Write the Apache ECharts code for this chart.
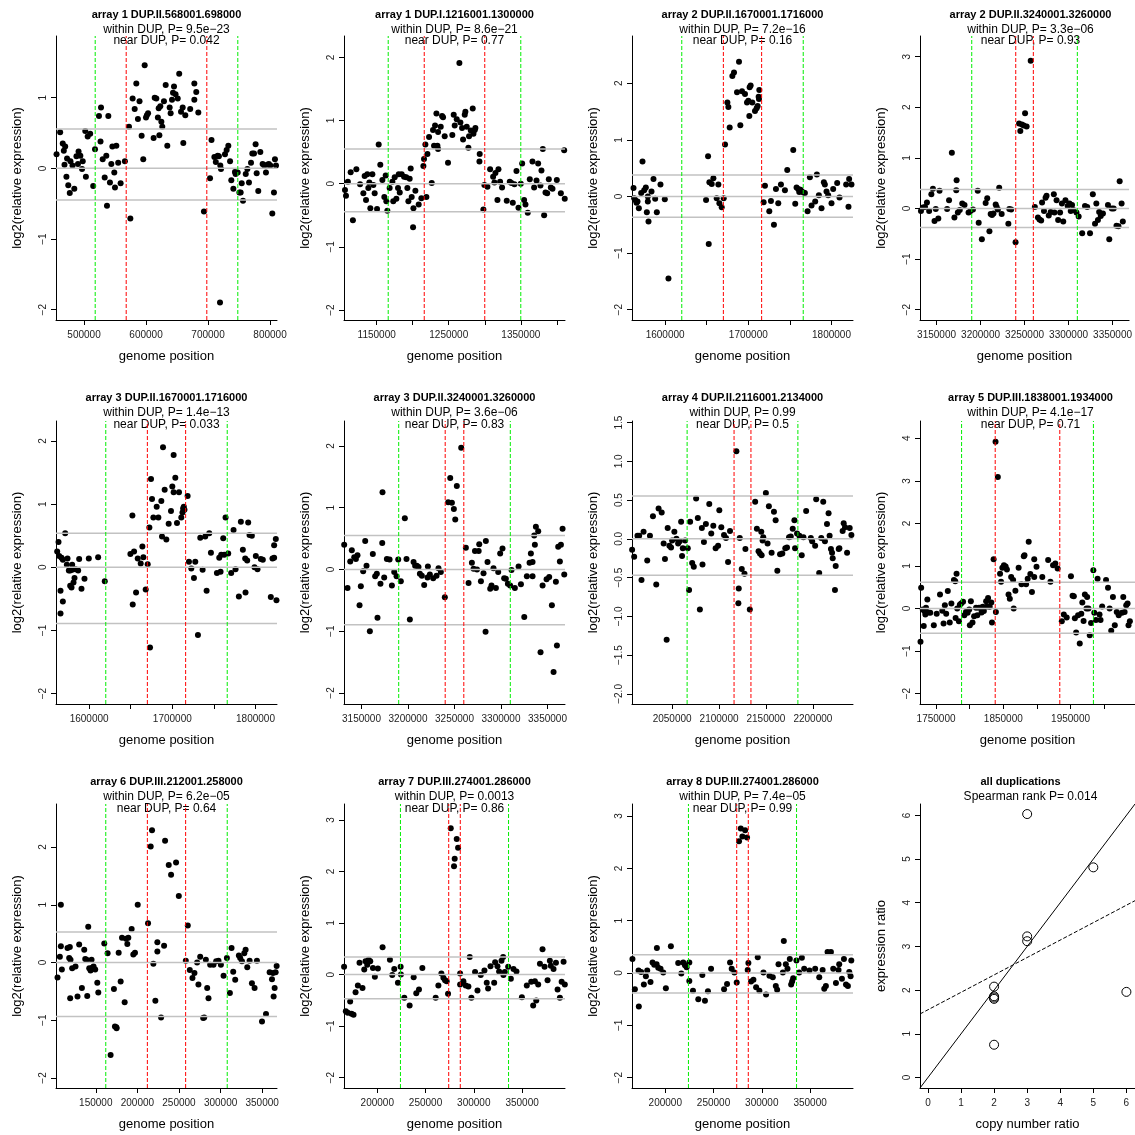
<!DOCTYPE html>
<html>
<head>
<meta charset="utf-8">
<script src="https://cdn.jsdelivr.net/npm/echarts@6/dist/echarts.min.js"></script>
<style>
  html, body { margin: 0; padding: 0; background: #fff; }
  #chart { width: 1135px; height: 1135px; }
</style>
</head>
<body>
<div id="chart"></div>
<script>
// ---- data (x in kb, y = log2 relative expression) ----
const titles = [
  'array 1 DUP.II.568001.698000', 'array 1 DUP.I.1216001.1300000',
  'array 2 DUP.II.1670001.1716000', 'array 2 DUP.II.3240001.3260000',
  'array 3 DUP.II.1670001.1716000', 'array 3 DUP.II.3240001.3260000',
  'array 4 DUP.II.2116001.2134000', 'array 5 DUP.III.1838001.1934000',
  'array 6 DUP.III.212001.258000', 'array 7 DUP.III.274001.286000',
  'array 8 DUP.III.274001.286000'
];
const withinP = ['9.5e\u221223', '8.6e\u221221', '7.2e\u221216', '3.3e\u221206', '1.4e\u221213', '3.6e\u221206',
  '0.99', '4.1e\u221217', '6.2e\u221205', '0.0013', '7.4e\u221205'];
const nearP = ['0.042', '0.77', '0.16', '0.93', '0.033', '0.83', '0.5', '0.71', '0.64', '0.86', '0.99'];
const dupStart = [568001, 1216001, 1670001, 3240001, 1670001, 3240001, 2116001, 1838001, 212001, 274001, 274001];
const dupEnd = [698000, 1300000, 1716000, 3260000, 1716000, 3260000, 2134000, 1934000, 258000, 286000, 286000];
const upperCut = [0.557, 0.549, 0.38, 0.375, 0.54, 0.549, 0.552, 0.62, 0.53, 0.34, 0.35];
const lowerCut = [-0.448, -0.443, -0.365, -0.375, -0.89, -0.894, -0.47, -0.58, -0.935, -0.466, -0.38];

const xTicks = [
  [500000, 600000, 700000, 800000],
  [1150000, 1200000, 1250000, 1300000, 1350000, 1400000],
  [1600000, 1650000, 1700000, 1750000, 1800000],
  [3150000, 3200000, 3250000, 3300000, 3350000],
  [1600000, 1650000, 1700000, 1750000, 1800000],
  [3150000, 3200000, 3250000, 3300000, 3350000],
  [2050000, 2100000, 2150000, 2200000],
  [1750000, 1800000, 1850000, 1900000, 1950000, 2000000],
  [150000, 200000, 250000, 300000, 350000],
  [200000, 250000, 300000, 350000],
  [200000, 250000, 300000, 350000]
];
const xLabels = [
  [500000, 600000, 700000, 800000],
  [1150000, 1250000, 1350000],
  [1600000, 1700000, 1800000],
  [3150000, 3200000, 3250000, 3300000, 3350000],
  [1600000, 1700000, 1800000],
  [3150000, 3200000, 3250000, 3300000, 3350000],
  [2050000, 2100000, 2150000, 2200000],
  [1750000, 1850000, 1950000],
  [150000, 200000, 250000, 300000, 350000],
  [200000, 250000, 300000, 350000],
  [200000, 250000, 300000, 350000]
];

const p1 = [[455.7,0.2],[461.5,0.51],[465.7,0.35],[467.4,0.25],[469.6,0.31],[468.5,0.05],[472.6,0.14],[471.6,-0.12],[474.6,-0.24],[477,-0.35],[478.1,0.1],[481.4,0.04],[484.3,-0.29],[487.8,0.17],[490.2,0.06],[491.2,0.24],[494.1,0.18],[496.8,-0.01],[497.9,0.1],[502,0.53],[503,-0.12],[505.9,0.45],[509.9,0.49],[514.8,-0.25],[517.7,0.27],[524.1,0.74],[527.4,0.86],[526.6,0.38],[530.1,0.13],[533.3,-0.13],[535.9,0.18],[537,-0.53],[539.2,0.74],[541.8,-0.2],[544,0.06],[545.7,0.31],[548.8,-0.06],[549.9,-0.27],[552.1,0.32],[555.1,0.08],[559,-0.21],[565.9,0.1],[572.5,0.59],[574.7,-0.71],[578.4,0.99],[581.7,0.84],[584.3,1.2],[586.9,0.7],[589.5,0.95],[592.9,0.46],[595.5,0.13],[597.8,1.46],[599.9,0.72],[601.4,0.75],[603.3,0.78],[612.2,0.43],[614,1.0],[616.6,0.99],[619.1,0.72],[620.4,0.85],[621.5,0.47],[623,0.88],[624.7,0.66],[626.2,0.59],[628.9,0.95],[631.7,1.18],[634.3,0.32],[638.1,0.86],[639.7,0.78],[641.9,0.97],[643.5,1.07],[645.1,1.16],[647.6,1.05],[651.1,0.99],[653.5,1.34],[656.4,0.8],[659.1,0.86],[660.1,0.36],[663.3,0.75],[671.2,0.84],[677.9,1.2],[677.9,0.97],[681,1.08],[684.3,0.79],[693.4,-0.61],[703.2,-0.14],[705.6,0.4],[710.2,0.16],[712.5,0.09],[715.5,0.18],[717.5,0.17],[719.3,-1.9],[719.8,0.04],[720.9,-0.01],[727.3,0.2],[730,0.26],[732.7,0.32],[735.5,0.1],[737.5,-0.17],[740.8,-0.29],[743.4,-0.05],[744.5,-0.08],[747.8,-0.06],[750.5,-0.34],[752.6,-0.34],[754.3,-0.21],[756.4,-0.46],[760.8,-0.08],[763.4,-0.01],[766,-0.2],[769.3,0.08],[771.4,0.21],[774.1,0.21],[776.7,0.34],[778.4,-0.07],[781,-0.32],[784.3,0.23],[788,0.06],[790.6,0.04],[793.4,-0.06],[795.5,0.05],[798,0.06],[800.4,0.04],[803.6,-0.64],[806.3,-0.34],[807.9,0.13],[809.6,0.04]];

const p2 = [[1106,-0.1],[1107.4,-0.19],[1110,0.03],[1113.9,0.18],[1117,-0.58],[1121.8,0.23],[1126.9,-0.01],[1131.5,-0.15],[1133.3,0.12],[1135.2,-0.26],[1137,0.15],[1138.4,-0.07],[1139.8,0.02],[1141.2,-0.39],[1144,0.15],[1145.4,-0.02],[1147.2,-0.15],[1150.5,-0.4],[1152.8,0.62],[1155,0.3],[1157.9,0.06],[1160.6,-0.21],[1162.5,0.13],[1163.4,-0.28],[1164.8,-0.43],[1168,-0.07],[1171.8,0.03],[1173,-0.28],[1175,0.1],[1177.3,-0.24],[1179.6,-0.07],[1180.6,0.15],[1182,-0.14],[1184.7,0.15],[1188,0.11],[1191,0.1],[1192.6,-0.07],[1194,-0.28],[1195.8,0.08],[1197.2,0.24],[1198.6,-0.21],[1200.5,-0.69],[1201,-0.39],[1203.7,-0.11],[1208.3,-0.33],[1212,-0.23],[1214.8,0.28],[1215.7,0.39],[1217.6,0.62],[1219,-0.21],[1220.4,0.47],[1222.7,0.74],[1226.4,0.01],[1228.2,0.85],[1229.6,0.6],[1231,0.92],[1232.9,1.11],[1234.3,0.6],[1235.2,0.55],[1235.2,0.82],[1238.9,0.9],[1240.7,1.07],[1242.1,1.05],[1244.4,0.75],[1249,0.33],[1255,0.77],[1256.9,1.09],[1258.3,0.92],[1261.1,1.02],[1264.8,1.91],[1266.2,0.97],[1268.5,0.88],[1269.9,0.7],[1272.2,1.09],[1273.1,1.14],[1275,0.9],[1277.3,0.57],[1278.2,0.75],[1280.6,0.84],[1283.3,1.19],[1284.3,0.79],[1286.1,0.85],[1287,0.88],[1293,0.47],[1292.6,0.35],[1298.1,-0.41],[1299.5,-0.02],[1303.7,-0.05],[1307.4,0.23],[1311.6,0.11],[1313.4,0.02],[1314.8,0.17],[1317.6,-0.26],[1319,0.23],[1321.3,0.03],[1324,-0.06],[1330.5,-0.27],[1334.7,0.03],[1337,0.01],[1338.9,-0.3],[1341.2,-0.01],[1344,0.2],[1346.8,-0.38],[1350,0],[1351.9,0.32],[1354.6,-0.26],[1356.5,-0.33],[1359.7,-0.46],[1362.5,0.07],[1366.2,0.35],[1368.5,-0.06],[1371.8,0.05],[1374.1,0.32],[1377.3,-0.03],[1378.7,0.21],[1380.6,0.55],[1382.4,-0.5],[1384.3,-0.14],[1386.6,-0.15],[1388.9,0.07],[1391.7,-0.06],[1394,-0.08],[1400,0.06],[1405.6,-0.15],[1410.2,0.53],[1411,-0.24]];

const p3 = [[1562,0.15],[1562.8,-0.03],[1564,-0.06],[1565.6,-0.11],[1566.8,-0.09],[1568.4,-0.21],[1571.2,0.06],[1572.8,0.62],[1574.8,0.11],[1576.8,0.16],[1578,-0.28],[1579.2,0],[1579.2,-0.09],[1580,-0.44],[1583.6,0.09],[1586,0.31],[1588,-0.04],[1590,-0.28],[1594.4,0.21],[1599.6,-0.05],[1604,-1.45],[1649.2,-0.06],[1651.6,0.71],[1652.4,-0.84],[1653.2,0.25],[1656,0.22],[1658,0.32],[1662,-0.03],[1664,0.21],[1665.2,-0.12],[1668,-0.19],[1670.4,-0.03],[1672,0.92],[1674.8,1.66],[1676,1.58],[1677.6,1.22],[1680.8,2.13],[1682.8,2.19],[1686.4,1.84],[1688.8,2.38],[1690.4,1.26],[1692.4,1.86],[1696,1.81],[1698.4,1.66],[1700,1.69],[1701.2,1.42],[1701.6,1.93],[1702.8,1.96],[1704.8,1.66],[1708,1.51],[1710,1.56],[1711.2,1.6],[1712.4,1.76],[1713.2,1.88],[1712.8,1.72],[1718.4,-0.1],[1720,0.19],[1725.2,-0.26],[1727.2,-0.08],[1730.8,-0.5],[1733.2,0.13],[1736,-0.12],[1739.2,0.21],[1744,0.11],[1746.8,0.47],[1754,0.82],[1756.4,-0.13],[1758,0.16],[1760,0.13],[1761.2,0.08],[1762.8,0.12],[1764,0.09],[1766.4,0.07],[1768,0.06],[1771.2,-0.26],[1774,0.34],[1776,-0.16],[1780.4,-0.09],[1782.4,0.39],[1784.8,0.02],[1788,-0.21],[1790.8,0.25],[1792,0.21],[1794,0.09],[1796,0.02],[1800,-0.12],[1802,0.13],[1806.8,0.24],[1809.6,-0.02],[1817.6,0.21],[1820.4,-0.18],[1821.2,0.31],[1824,0.21]];

const p4 = [[3132.3,-0.05],[3134.4,0.02],[3136.9,0.03],[3139.1,0.12],[3141.6,-0.05],[3144.1,0.28],[3145.9,0.39],[3147.7,-0.25],[3149.1,-0.01],[3152,-0.2],[3153.4,0.35],[3162,-0.01],[3164.2,0.16],[3167.4,1.1],[3170.3,-0.18],[3172.8,0.56],[3172.4,0.36],[3174.2,-0.08],[3176.4,-0.03],[3179.2,0.1],[3181.8,0.07],[3186.4,-0.08],[3188.6,-0.05],[3191.4,-0.02],[3196.8,0.35],[3197.9,-0.28],[3201.5,-0.61],[3205.8,0.11],[3207.6,0.2],[3210.1,-0.45],[3211.5,-0.11],[3213,-0.13],[3214.7,-0.1],[3217.2,0.08],[3218.3,0.03],[3221.2,0.41],[3219.7,-0.02],[3224,-0.11],[3231.6,-0.3],[3232.7,-0.01],[3234.8,-0.02],[3239.8,-0.67],[3243.8,1.68],[3245.2,1.53],[3247,1.66],[3250.6,1.88],[3249.1,1.64],[3252.4,1.62],[3257,2.92],[3261.7,0.03],[3265.2,-0.18],[3267,-0.22],[3268.9,-0.24],[3269.9,0.12],[3272.1,-0.05],[3273.9,0.21],[3275,0.25],[3277.5,-0.14],[3279.7,-0.07],[3283.3,0.28],[3284,-0.08],[3286.4,0.16],[3288.2,-0.23],[3290.4,-0.08],[3292.5,0.1],[3294,-0.26],[3296.5,0.16],[3299,0.05],[3301.1,0.1],[3302.5,-0.05],[3304,0.07],[3305.4,-0.03],[3309,-0.08],[3311.5,-0.16],[3315.5,-0.49],[3318.7,0.05],[3321.2,0.03],[3324.4,-0.49],[3327.6,0.28],[3330.1,-0.3],[3331.6,0.1],[3333.4,-0.23],[3334.8,-0.07],[3336.6,-0.15],[3339.1,-0.1],[3344.8,0.07],[3346.3,-0.61],[3349.1,0],[3351.3,0],[3354.5,-0.34],[3356.7,-0.35],[3358.1,0.54],[3360.3,0.1],[3361.7,-0.26]];

const p5 = [[1561.6,0.25],[1563.2,0.4],[1564,0.18],[1565.6,-0.37],[1565.6,-0.73],[1566.8,0.15],[1568.4,-0.54],[1568.4,0.12],[1571.2,0.54],[1573.2,0.04],[1574,0.14],[1575.6,-0.05],[1577.2,-0.05],[1577.2,-0.29],[1578.8,-0.32],[1579.6,0.04],[1579.6,-0.04],[1581.2,-0.24],[1582.4,-0.17],[1583.6,-0.03],[1586.8,-0.05],[1588,0.13],[1590.8,-0.34],[1594.4,-0.18],[1599.6,0.14],[1610.8,0.16],[1618.8,-0.22],[1649.6,0.21],[1652,0.82],[1652.4,-0.59],[1654,0.25],[1656.4,-0.4],[1658.4,0.14],[1662,0.06],[1664,0.33],[1665.2,0.16],[1668,-0.35],[1670.4,0.05],[1672.4,0.63],[1673.2,-1.27],[1674.4,1.4],[1675.6,1.08],[1677.2,0.79],[1681.2,0.96],[1683.2,0.79],[1686.8,1.05],[1687.6,0.49],[1688.8,1.9],[1690.8,1.23],[1692.8,0.44],[1695.6,0.69],[1698.4,0.89],[1700,1.28],[1701.6,1.78],[1701.6,1.19],[1703.6,1.42],[1705.6,0.7],[1708,1.19],[1710.8,0.79],[1712.2,0.87],[1713,0.93],[1713.8,0.96],[1714.6,0.91],[1718.4,1.13],[1720,0.09],[1722.8,-0.02],[1726,-0.17],[1727.6,0.09],[1730.8,-1.07],[1733.6,0.47],[1736.4,-0.04],[1739.6,0.49],[1741.2,-0.37],[1744.4,0.54],[1746.4,0.23],[1753.6,-0.09],[1756.4,0.15],[1758,-0.07],[1758.8,0.2],[1761.2,0.46],[1762.4,0.2],[1764,0.79],[1767.2,0.22],[1770.8,-0.09],[1773.6,0.59],[1776,-0.03],[1780,-0.46],[1782.4,0.72],[1784.8,0.28],[1787.6,0.14],[1788,-0.4],[1790,0.11],[1791.2,0.71],[1792.8,0.51],[1795.6,0.5],[1798.8,0],[1800.4,0.18],[1802.4,-0.03],[1806.4,0.13],[1808.8,0.12],[1818.4,-0.47],[1820.4,0.14],[1822.4,0.15],[1822.4,0.35],[1824.4,0.45],[1825.2,-0.52]];

const p6 = [[3131.4,0.4],[3135,-0.3],[3137.9,0.13],[3139.6,0.31],[3142.2,0.2],[3144,0.17],[3145.7,0.23],[3147.9,-0.58],[3149.3,-0.27],[3151.8,-0.03],[3154,0.46],[3155.4,0.06],[3159,-1.0],[3162.2,0.25],[3164.7,-0.11],[3166.5,-0.07],[3167.2,-0.78],[3170.4,-0.23],[3172.6,1.25],[3172.3,0.43],[3174.4,-0.13],[3177.3,0.17],[3180.2,0.16],[3182.7,-0.26],[3185.2,-0.04],[3187.7,-0.11],[3189.5,0.16],[3192.3,-0.19],[3196.6,0.83],[3198.4,0.17],[3202,-0.81],[3206,0.12],[3207.7,0.06],[3209.5,0.06],[3211.3,0.04],[3212.8,-0.07],[3214.9,-0.1],[3217.4,-0.25],[3221,-0.13],[3221.4,0.05],[3223.5,-0.08],[3227.1,-0.14],[3230.7,-0.1],[3232.8,0.02],[3235.3,-0.04],[3239.6,-0.45],[3243.2,1.09],[3245.4,1.48],[3247.2,1.08],[3249.3,0.98],[3250.8,0.81],[3252.5,1.35],[3257.2,1.97],[3262.2,0.35],[3265.1,-0.22],[3268.7,0.11],[3270.5,0.01],[3272,0.3],[3274.2,0],[3276,0.3],[3276.6,0.41],[3278.4,-0.19],[3281.2,-0.06],[3283.4,-1.01],[3283.7,0.46],[3285.5,0.12],[3288.4,-0.31],[3289.8,-0.26],[3291.9,0.02],[3294.5,-0.3],[3297,-0.04],[3299.1,0.26],[3301.6,0.34],[3303.4,-0.14],[3305.2,-0.15],[3307.4,-0.23],[3309.8,-0.26],[3311.3,-0.01],[3314.9,-0.3],[3318.9,0.05],[3321.4,-0.24],[3325,-0.77],[3327.8,-0.11],[3330.7,0.11],[3332.1,0.26],[3333.9,0.12],[3333.9,-0.11],[3335.7,0.55],[3336.4,0.4],[3337.5,0.69],[3340,0.62],[3342.5,-1.34],[3344.7,-0.26],[3349,-0.16],[3351.8,-0.12],[3354.7,-0.58],[3356.5,-1.66],[3359,-0.2],[3360.1,-1.23],[3361.5,0.37],[3363.3,0.13],[3364.4,0.4],[3366.2,0.66],[3368,-0.08]];

const p7 = [[2007.4,-0.14],[2009.6,-0.23],[2013.1,0.04],[2014.9,0.04],[2017.4,-0.53],[2019.6,0.09],[2023.5,-0.28],[2026.4,0.04],[2029.6,0.29],[2033.1,-0.59],[2035.6,0.39],[2038.9,0.34],[2041,-0.06],[2042.4,-0.26],[2044.2,-1.3],[2045.3,0.14],[2047.1,-0.09],[2048.9,-0.11],[2050,-0.02],[2052.4,0.09],[2054.6,0],[2056.4,-0.06],[2058.1,-0.03],[2059.6,0.22],[2060.6,-0.22],[2061.4,-0.12],[2063.9,-0.02],[2066.7,-0.12],[2068.1,-0.66],[2069.2,0.22],[2071.4,-0.31],[2073.1,-0.36],[2075.6,0.52],[2077.4,0.27],[2079.6,-0.91],[2081.7,0.14],[2082.4,-0.33],[2083.9,-0.04],[2086,0.19],[2089.6,0.45],[2091.7,0.07],[2093.9,0.17],[2096.4,-0.12],[2099,-0.09],[2100.3,0.37],[2102.4,0.15],[2105.3,0.05],[2107.4,0.01],[2109.6,-0.3],[2111.7,0.1],[2118.5,1.13],[2121,-0.64],[2120.6,-0.83],[2122.1,0.01],[2124.2,-0.39],[2127.1,-0.45],[2128.1,-0.13],[2132.8,-0.91],[2138.5,0.48],[2140.3,0.13],[2142.1,-0.16],[2143.6,-0.19],[2145,0.09],[2145.4,-0.21],[2146.4,-0.02],[2147.1,0.02],[2149.9,0.59],[2151.7,-0.06],[2153.1,0.42],[2156,-0.18],[2158.5,0.35],[2160.3,0.24],[2162.1,-0.41],[2165,-0.2],[2167.4,-0.19],[2170.6,-0.12],[2172.4,-0.11],[2174.6,0.02],[2176.4,0.03],[2178.5,0.13],[2180.3,0.24],[2181,-0.12],[2183.1,0.07],[2185.6,0.04],[2188.1,-0.21],[2189.9,0.02],[2192.8,0.36],[2197.8,0.01],[2199.2,-0.03],[2202.4,-0.09],[2203.5,0.51],[2206.7,-0.44],[2208.9,0.01],[2211,0.48],[2212.8,-0.03],[2215,0.19],[2216.7,0.33],[2217.8,0.04],[2219.2,-0.13],[2220.4,-0.18],[2221.1,-0.25],[2223.5,-0.66],[2224.3,-0.35],[2227.5,-0.13],[2228.2,-0.12],[2231.7,0.1],[2232.8,0.2],[2234.2,0.15],[2236.4,-0.18],[2239.2,0.14],[2241,0.05]];

const p8 = [[1727.9,0.49],[1726.9,-0.78],[1730.3,-0.02],[1731.7,-0.41],[1732.7,-0.06],[1734.1,-0.14],[1735.1,0.02],[1737.1,0.21],[1738.5,-0.09],[1741.4,-0.1],[1746.7,-0.39],[1751,-0.12],[1755.9,0.33],[1759.3,-0.05],[1761.2,-0.35],[1763.1,0.08],[1765.1,-0.12],[1767.5,0.41],[1770.4,-0.33],[1772.8,0.12],[1776.6,0.67],[1778.6,0.64],[1780.5,0.82],[1779.1,-0.22],[1781.5,0],[1784,-0.3],[1785.4,0.09],[1787.3,0.12],[1790.2,0.16],[1792.1,-0.16],[1794.5,-0.08],[1797,-0.1],[1799.4,-0.02],[1800.3,-0.39],[1801.8,0.17],[1804.2,-0.33],[1806.6,-0.18],[1809.5,0.02],[1811.4,-0.16],[1813.8,0.02],[1816.3,0.02],[1817.7,-0.09],[1819.6,0.04],[1821.1,-0.06],[1824.5,0.17],[1826,0.05],[1827.4,0.25],[1829.8,0.04],[1832.2,0.14],[1833.2,-0.33],[1835.6,1.16],[1838.5,3.92],[1839,-0.08],[1841.9,3.09],[1845.2,0.82],[1846.7,0.63],[1848.6,0.96],[1851,1.02],[1853.5,0.99],[1855.4,0.92],[1857.8,0.33],[1859.7,0.23],[1861.7,0.74],[1864.6,0.67],[1865.5,0],[1868,0.42],[1872.8,0.96],[1877.1,0.57],[1880.5,1.23],[1881.5,1.25],[1883.9,0.57],[1886.3,0.7],[1887.8,1.57],[1890.2,0.81],[1892.6,0.39],[1896,1.16],[1896,0.74],[1899.4,0.98],[1908,0.74],[1916.7,1.14],[1920.1,0.63],[1924,1.02],[1927.4,1.06],[1930.8,0.94],[1937,-0.3],[1940,-0.14],[1944.3,-0.21],[1950.6,0.76],[1953,0.3],[1954.9,0.29],[1956.4,-0.23],[1958.3,-0.56],[1961.2,-0.16],[1963.7,-0.82],[1966,-0.12],[1967.5,0.14],[1969.4,-0.29],[1971.3,0.33],[1973.7,0],[1974.7,0.27],[1976.6,0],[1978.6,-0.63],[1980.5,-0.34],[1983.9,0.9],[1985.3,-0.1],[1987.8,-0.27],[1990.2,0.7],[1993.1,-0.14],[1994.6,-0.27],[1997,0.05],[2002.8,0.67],[2005.7,0.49],[2008.1,0],[2010.5,-0.52],[2013,0.27],[2015.8,-0.39],[2018.7,-0.08],[2021.6,-0.16],[2026.5,-0.1],[2028.4,0.27],[2030.4,-0.08],[2032.8,0.08],[2034.8,0.12],[2036.2,-0.39],[2038.2,-0.3]];

const p9 = [[104,-0.26],[106.8,0.1],[108,1.0],[108,0.28],[109.2,-0.12],[116,0.25],[118,0.08],[118.8,0.27],[119.2,-0.62],[119.6,0.05],[121.6,-0.1],[125.6,-0.07],[128,-0.59],[130,0.31],[133.3,-0.44],[136.1,0.22],[137.3,0.06],[138.9,0.05],[139.7,-0.58],[140.9,0.62],[142.1,-0.1],[143.7,-0.14],[144.9,0.05],[145.7,-0.09],[147.3,-0.07],[149.3,-0.12],[151.8,-0.35],[153,-0.52],[160.2,0.33],[164.2,0.16],[167.8,-1.6],[171.8,-0.46],[173,-1.11],[174.7,-1.12],[175,-1.14],[177.5,0.17],[179.9,-0.33],[181.5,0.43],[184.7,-0.69],[186.3,0.41],[187.9,0.32],[189.1,0.43],[193.1,0.58],[195.1,0.14],[197.1,0.17],[200.4,1.0],[212.8,0.68],[216,2.01],[217.6,2.29],[219.2,-0.02],[221.6,-0.66],[224,0.35],[224,0.19],[228.5,-0.95],[232.1,0.29],[233.3,2.11],[237.7,1.69],[240.5,1.52],[246.5,1.73],[249.8,1.15],[260.6,0.64],[258.2,0.03],[263,-0.13],[266.2,-0.27],[268.6,-0.18],[271.8,0],[273.4,-0.38],[275.5,0.1],[279.1,-0.96],[280.3,-0.95],[282.3,0.05],[283.9,-0.44],[285.5,-0.62],[287.5,-0.04],[291.5,-0.04],[294.7,0.02],[297.5,0.03],[300.4,-0.04],[303.6,-0.23],[307.6,0.08],[311.2,-0.53],[313.2,0.25],[315.2,-0.16],[317.6,-0.3],[322,0.12],[323.6,0.08],[325.7,0.02],[328.5,0.16],[330.1,0.22],[332.1,-0.08],[334.9,0.03],[337.7,-0.36],[340.9,-0.44],[343.7,0.03],[349.8,-1.02],[354.6,-0.89],[359,-0.17],[361.8,-0.29],[363,-0.18],[363.8,-0.59],[365,-0.44],[366.2,-0.17],[367.4,-0.06]];

const p10 = [[165.6,0.15],[167.4,-0.71],[169.5,-0.74],[171.9,-0.52],[173.3,-0.76],[175.4,-0.78],[177.5,-0.34],[179.9,-0.21],[181.6,0.23],[184.7,-0.26],[186.5,0.1],[187.8,0.26],[189.6,0.19],[191,0.29],[192.7,0.26],[195.5,0.13],[197.5,-0.04],[200.6,0.12],[205.5,0.53],[213.1,0.29],[215.5,-0.01],[217.6,0.11],[221.4,-0.16],[224.2,0.15],[224.5,0],[228,-0.45],[233.5,-0.6],[237.7,-0.05],[240.4,-0.36],[243.2,-0.29],[246.7,0.13],[260.5,-0.45],[263.3,-0.21],[266.4,0.02],[268.5,-0.06],[270.2,-0.11],[271.9,-0.13],[273.3,-0.37],[276.1,2.84],[279.5,2.1],[280.2,2.25],[282.3,2.63],[283.7,2.46],[285.8,0.02],[285.8,-0.19],[289.2,-0.13],[291.6,-0.21],[294.4,-0.23],[295.8,0.34],[297.5,-0.45],[301.3,0.05],[303.8,-0.31],[307.2,-0.01],[311,0.08],[313.4,-0.16],[314.8,-0.27],[317.3,0.16],[321.1,-0.16],[322.1,0.24],[324.5,0.16],[326.2,0.06],[328.7,0.27],[330.4,0.34],[330.7,-0.01],[332.1,0.05],[335.6,0.15],[338.4,-0.08],[341.1,0.11],[344.2,0.06],[349.8,-0.44],[354.9,-0.21],[359.5,-0.14],[361.5,-0.6],[363.3,-0.13],[364.7,-0.5],[366.7,-0.19],[368.5,0.21],[371.2,0.49],[373.3,0.15],[376.4,-0.11],[378.8,0.27],[379.8,0.17],[382.6,0.11],[385.1,0.23],[386.8,-0.29],[389.2,-0.45],[391,-0.14],[393,0.25],[394.3,-0.19]];

const p11 = [[166,0.27],[168.5,-0.31],[172.3,0.05],[172.6,-0.64],[175,0.02],[177.8,-0.22],[179.9,-0.06],[181.3,0.05],[184.7,-0.17],[186.8,0.2],[188.6,0.16],[191.3,0.48],[191,0.17],[192.7,0.1],[195.1,0.08],[197.9,0.01],[200.6,-0.29],[205.8,0.51],[213.4,0.19],[216.6,-0.01],[218.6,0.2],[220.4,0.15],[222.1,0.11],[224.9,0.2],[224.9,-0.15],[228.7,-0.34],[234.2,-0.5],[238.4,-0.04],[241.1,-0.53],[244.2,-0.35],[247.4,0.08],[260.9,-0.31],[264,-0.21],[267.1,0.2],[268.8,0.08],[271.6,0.01],[274,-0.18],[276.4,2.52],[278.2,2.76],[279.9,2.61],[282.7,2.73],[284.7,2.59],[286.1,0.19],[285.4,0.06],[288.9,-0.16],[291.3,-0.13],[294.1,-0.27],[295.8,0.3],[297.5,-0.34],[301.7,0.01],[304.4,-0.41],[307.9,-0.05],[311.4,-0.08],[314.5,-0.25],[315.9,-0.32],[317.3,0.17],[321.8,0.01],[322.8,0.61],[324.9,0.17],[326.6,0.08],[329,0.27],[330.4,-0.22],[331.4,-0.16],[332.5,-0.1],[335.9,0.24],[338.7,0.01],[341.5,0.29],[343.9,0.08],[349.4,0.05],[355.3,0.08],[359.5,-0.08],[363,0.06],[364.7,-0.3],[366.4,-0.25],[368.1,0.4],[371.6,0.4],[374,0.08],[376.8,-0.19],[379.5,0.06],[380.2,0.17],[383,-0.11],[385.1,0.27],[387.2,-0.22],[389.2,-0.25],[390.6,0.02],[392,-0.06],[392.7,0.24]];

const panelPoints = [p1, p2, p3, p4, p5, p6, p7, p8, p9, p10, p11];

// last panel: all duplications
const copyRatio = [2, 2, 2, 2, 2, 3, 3, 3, 5, 6];
const exprRatio = [0.75, 1.8, 1.83, 1.86, 2.08, 3.12, 3.23, 6.03, 4.81, 1.96];

// axis ranges (log2 panels)
const yLims = [[-2.146, 1.873], [-2.158, 2.338], [-2.182, 2.835], [-2.204, 3.408], [-2.164, 2.317], [-2.178, 2.404],
  [-2.13, 1.52], [-2.243, 4.407], [-2.173, 2.745], [-2.2, 3.31], [-2.197, 3.23]];

// ---- layout ----
const FONT = 'Liberation Sans, Arial, Helvetica, sans-serif';
const gridLeft = [56, 344, 632, 920];
const gridTop = [36, 421, 804];
const gridH = [284, 283, 284];
const gridW = 221;
const titleY = [15, 398, 782];
const withinY = [30, 413, 797];
const nearY = [41, 425, 809];

function seq(a, b, step) {
  const out = [];
  for (let v = a; v <= b + 1e-9; v += step) out.push(+v.toFixed(6));
  return out;
}
const minus = s => String(s).replace('-', '\u2212');

function xAxisCfg(i, min, max, ticks, labels, name) {
  return {
    gridIndex: i, type: 'value', position: 'bottom', min: min, max: max,
    name: name, nameLocation: 'middle', nameGap: 30,
    nameTextStyle: { fontFamily: FONT, fontSize: 13, color: '#000' },
    axisLine: { show: true, onZero: false, lineStyle: { color: '#000', width: 1 } },
    axisTick: { show: true, inside: false, length: 5, customValues: ticks, lineStyle: { color: '#000' } },
    axisLabel: { show: true, customValues: labels, margin: 10, hideOverlap: false,
      fontFamily: FONT, fontSize: 10, color: '#222', formatter: v => minus(Math.round(v)) },
    splitLine: { show: false }
  };
}
function yAxisCfg(i, min, max, ticks, name, decimals) {
  return {
    gridIndex: i, type: 'value', position: 'left', min: min, max: max,
    name: name, nameLocation: 'middle', nameGap: 32, nameRotate: 90,
    nameTextStyle: { fontFamily: FONT, fontSize: 13, color: '#000' },
    axisLine: { show: true, onZero: false, lineStyle: { color: '#000', width: 1 } },
    axisTick: { show: true, inside: false, length: 5, customValues: ticks, lineStyle: { color: '#000' } },
    axisLabel: { show: true, customValues: ticks, rotate: 90, margin: 8, hideOverlap: false,
      fontFamily: FONT, fontSize: 10, color: '#222', formatter: v => minus(v.toFixed(decimals)) },
    splitLine: { show: false }
  };
}
function text(x, y, str, bold) {
  return { type: 'text', x: x, y: y, silent: true,
    style: { text: str, fontFamily: FONT, fontSize: bold ? 11 : 12, fontWeight: bold ? 'bold' : 'normal',
      fill: '#000', align: 'center', verticalAlign: 'middle' } };
}
// fresh style objects for every line
const grayLine = () => ({ color: '#c2c2c2', width: 1.5, type: 'solid', opacity: 1 });
const greenLine = () => ({ color: '#00ee00', width: 1, type: 'dashed', dashOffset: 0, opacity: 1 });
const redLine = () => ({ color: '#ff0000', width: 1, type: 'dashed', dashOffset: 0, opacity: 1 });

const grids = [], xAxes = [], yAxes = [], series = [], graphics = [];

for (let i = 0; i < 12; i++) {
  const col = i % 4, row = Math.floor(i / 4);
  grids.push({ left: gridLeft[col], top: gridTop[row], width: gridW, height: gridH[row] });
  const cx = gridLeft[col] + gridW / 2;

  if (i < 11) {
    const s = dupStart[i] - 1, e = dupEnd[i];
    const lo = s - 100000, hi = e + 100000, pad = 0.04 * (hi - lo);
    xAxes.push(xAxisCfg(i, lo - pad, hi + pad, xTicks[i], xLabels[i], 'genome position'));
    const yl = yLims[i];
    const step = i === 6 ? 0.5 : 1;
    yAxes.push(yAxisCfg(i, yl[0], yl[1], seq(-2, Math.floor(yl[1] / step) * step, step),
      'log2(relative expression)', step < 1 ? 1 : 0));
    series.push({
      type: 'scatter', xAxisIndex: i, yAxisIndex: i, symbol: 'circle', symbolSize: 6,
      itemStyle: { color: '#000', opacity: 1 }, silent: true, z: 2,
      data: panelPoints[i].map(p => [p[0] * 1000, p[1]])
    });
    // reference lines: one line series per rule, drawn above the points
    const hLines = [[0, grayLine()], [upperCut[i], grayLine()], [lowerCut[i], grayLine()]];
    const vLines = [[s - 50000, greenLine()], [e + 50000, greenLine()], [s, redLine()], [e, redLine()]];
    const ylo = yl[0], yhi = yl[1], xlo = lo - pad, xhi = hi + pad;
    hLines.forEach(([v, ls]) => series.push({
      type: 'line', xAxisIndex: i, yAxisIndex: i, symbol: 'none', silent: true, z: 3,
      lineStyle: ls, data: [[xlo, v], [xhi, v]]
    }));
    vLines.forEach(([v, ls]) => series.push({
      type: 'line', xAxisIndex: i, yAxisIndex: i, symbol: 'none', silent: true, z: 4,
      lineStyle: ls, data: [[v, ylo], [v, yhi]]
    }));
    graphics.push(text(cx, titleY[row], titles[i], true));
    graphics.push(text(cx, withinY[row], 'within DUP, P= ' + withinP[i], false));
    graphics.push(text(cx, nearY[row], 'near DUP, P= ' + nearP[i], false));
  } else {
    // all duplications panel
    const lim = [-0.24, 6.26];
    xAxes.push(xAxisCfg(i, lim[0], lim[1], seq(0, 6, 1), seq(0, 6, 1), 'copy number ratio'));
    yAxes.push(yAxisCfg(i, lim[0], lim[1], seq(0, 6, 1), 'expression ratio', 0));
    series.push({
      type: 'scatter', xAxisIndex: i, yAxisIndex: i, symbol: 'circle', symbolSize: 9, silent: true,
      itemStyle: { color: 'rgba(0,0,0,0)', borderColor: '#000', borderWidth: 1, opacity: 1 },
      data: copyRatio.map((c, k) => [c, exprRatio[k]])
    });
    // least-squares fit of expression on copy number
    const n = copyRatio.length;
    const mx = copyRatio.reduce((a, b) => a + b, 0) / n;
    const my = exprRatio.reduce((a, b) => a + b, 0) / n;
    let sxy = 0, sxx = 0;
    for (let k = 0; k < n; k++) { sxy += (copyRatio[k] - mx) * (exprRatio[k] - my); sxx += (copyRatio[k] - mx) ** 2; }
    const b = sxy / sxx, a = my - b * mx;
    series.push({
      type: 'line', xAxisIndex: i, yAxisIndex: i, symbol: 'none', silent: true, clip: true,
      lineStyle: { color: '#000', width: 1 },
      data: [[lim[0], lim[0]], [lim[1], lim[1]]]
    });
    series.push({
      type: 'line', xAxisIndex: i, yAxisIndex: i, symbol: 'none', silent: true, clip: true,
      lineStyle: { color: '#000', width: 1, type: 'dashed' },
      data: [[lim[0], a + b * lim[0]], [lim[1], a + b * lim[1]]]
    });
    graphics.push(text(cx - 10, titleY[row], 'all duplications', true));
    graphics.push(text(cx, withinY[row], 'Spearman rank P= 0.014', false));
  }
}

const chart = echarts.init(document.getElementById('chart'), null, { renderer: 'canvas' });
chart.setOption({
  backgroundColor: '#fff',
  animation: false,
  grid: grids,
  xAxis: xAxes,
  yAxis: yAxes,
  series: series,
  graphic: graphics
});
</script>
</body>
</html>
